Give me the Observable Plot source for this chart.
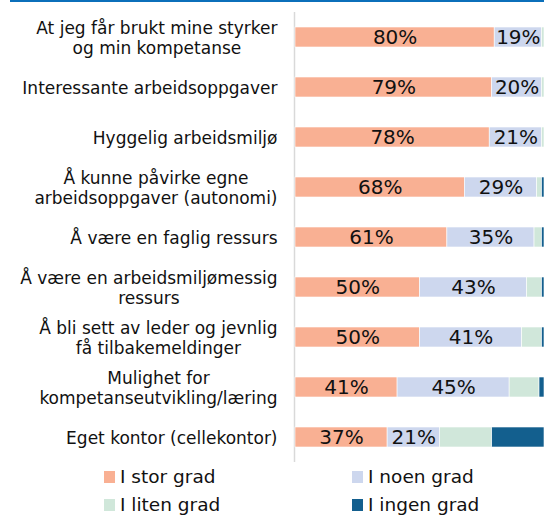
<!DOCTYPE html>
<html>
<head>
<meta charset="utf-8">
<script src="https://cdn.jsdelivr.net/npm/d3@7"></script>
<script src="https://cdn.jsdelivr.net/npm/@observablehq/plot@0.6"></script>
<style>
  html, body { margin: 0; padding: 0; background: #fff; }
  #wrap { position: relative; width: 544px; height: 515px; overflow: hidden; font-family: "DejaVu Sans", sans-serif; }
  #topline { position: absolute; left: 10px; top: 0; width: 534px; height: 2px; background: #0b6fba; }
  #chart { position: absolute; left: 0; top: 0; }
  .item { position: absolute; height: 20px; line-height: 20px; font-size: 18.5px; color: #111; white-space: nowrap; }
  .sw { position: absolute; left: 0; top: 4px; width: 11px; height: 12px; }
  .lt { position: absolute; left: 16px; top: 0; }
</style>
</head>
<body>
<div id="wrap">
  <div id="chart"></div>
  <div id="topline"></div>
  <div id="legend"></div>
</div>
<script>
const categories = [
  "At jeg får brukt mine styrker\nog min kompetanse",
  "Interessante arbeidsoppgaver",
  "Hyggelig arbeidsmiljø",
  "Å kunne påvirke egne\narbeidsoppgaver (autonomi)",
  "Å være en faglig ressurs",
  "Å være en arbeidsmiljømessig\nressurs",
  "Å bli sett av leder og jevnlig\nfå tilbakemeldinger",
  "Mulighet for\nkompetanseutvikling/læring",
  "Eget kontor (cellekontor)"
];
const seriesNames = ["I stor grad", "I noen grad", "I liten grad", "I ingen grad"];
const storGrad  = [80, 79, 78, 68, 61, 50, 50, 41, 37];
const noenGrad  = [19, 20, 21, 29, 35, 43, 41, 45, 21];
const litenGrad = [1, 1, 1, 2, 3, 6, 8, 12, 21];
const ingenGrad = [0, 0, 0, 1, 1, 1, 1, 2, 21];
const colors = ["#f9b093", "#cdd7ee", "#d0e7da", "#135f8e"];
const labeledSeries = ["I stor grad", "I noen grad"];

const seriesValues = [storGrad, noenGrad, litenGrad, ingenGrad];
const data = [];
categories.forEach((c, i) => {
  seriesNames.forEach((s, j) => {
    data.push({cat: c, series: s, value: seriesValues[j][i]});
  });
});

const labelSize = 17;
const canvas = document.createElement("canvas");
const ctx = canvas.getContext("2d");
ctx.font = labelSize + "px 'DejaVu Sans'";
const blockWidth = (label) => Math.max(...label.split("\n").map(l => ctx.measureText(l).width));

const labelMarks = categories.map(c =>
  Plot.text([c], {
    y: d => d,
    text: d => d,
    frameAnchor: "left",
    textAnchor: "middle",
    lineAnchor: "middle",
    lineHeight: 1.15,
    dx: -(18 + blockWidth(c) / 2),
    fontSize: labelSize,
    fill: "#111"
  })
);

const plot = Plot.plot({
  width: 544,
  height: 465,
  marginTop: 12,
  marginBottom: 3,
  marginLeft: 295,
  marginRight: 0,
  style: {fontFamily: "'DejaVu Sans', sans-serif", background: "transparent"},
  x: {domain: [0, 100], axis: null},
  y: {domain: categories, axis: null, paddingInner: 0.6, paddingOuter: 0.3},
  color: {domain: seriesNames, range: colors},
  marks: [
    Plot.ruleX([0], {stroke: "#d9d9d9", strokeWidth: 1.5, dx: -1}),
    Plot.barX(data, Plot.stackX({
      x: "value", y: "cat", fill: "series", z: "series", order: seriesNames,
      stroke: "white", strokeWidth: 0.6
    })),
    Plot.text(data, Plot.stackX({
      x: "value", y: "cat", z: "series", order: seriesNames,
      text: d => labeledSeries.includes(d.series) ? d.value + "%" : "",
      fontSize: 20, fill: "#111"
    })),
    ...labelMarks
  ]
});
document.getElementById("chart").appendChild(plot);

const legend = document.getElementById("legend");
const legendLeft = [104, 352], legendTop = [467, 495];
seriesNames.forEach((s, j) => {
  const item = document.createElement("div");
  item.className = "item";
  item.style.left = legendLeft[j % 2] + "px";
  item.style.top = legendTop[Math.floor(j / 2)] + "px";
  const sw = document.createElement("span");
  sw.className = "sw";
  sw.style.background = colors[j];
  const t = document.createElement("span");
  t.className = "lt";
  t.textContent = s;
  item.appendChild(sw);
  item.appendChild(t);
  legend.appendChild(item);
});
</script>
</body>
</html>
